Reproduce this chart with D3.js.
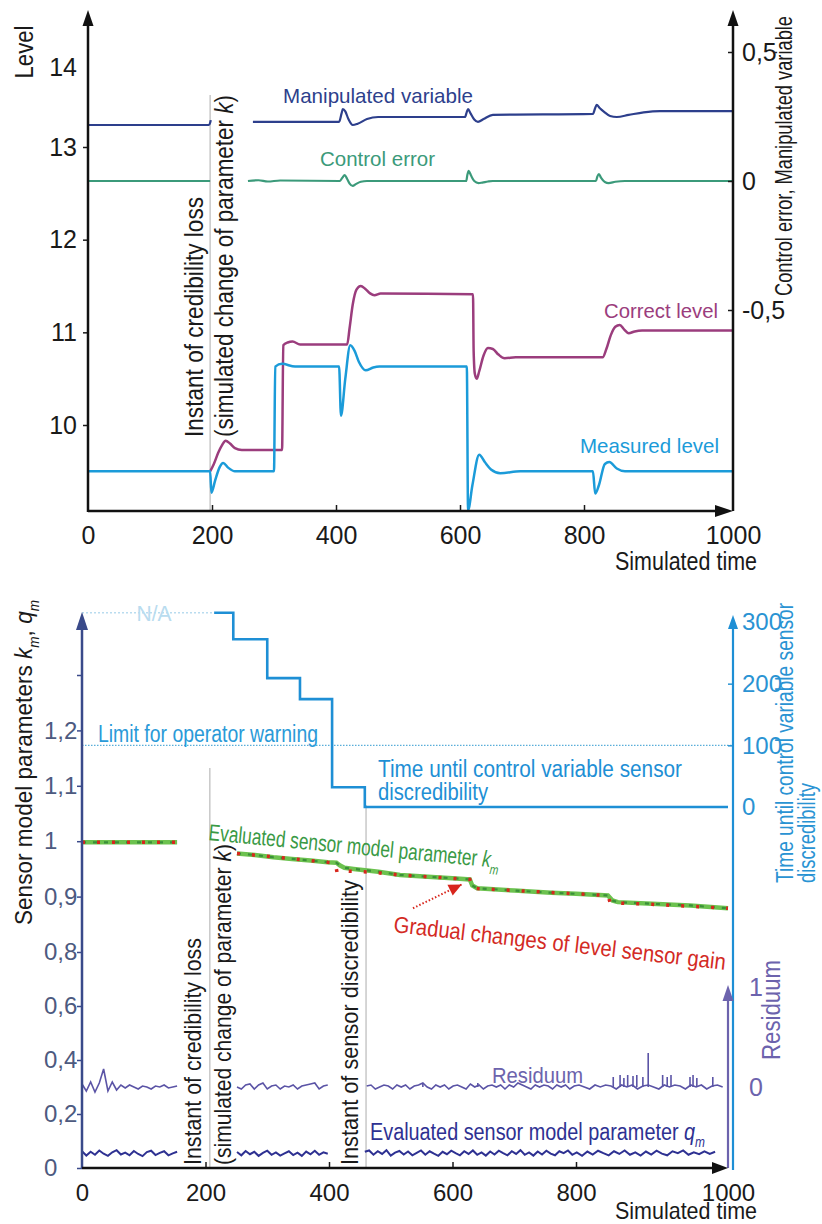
<!DOCTYPE html>
<html>
<head>
<meta charset="utf-8">
<script src="https://cdn.jsdelivr.net/npm/d3@7"></script>
<style>
body { margin: 0; background: #fff; }
svg text { font-family: "Liberation Sans Narrow", "Arial Narrow", "Liberation Sans", Arial, sans-serif; }
</style>
</head>
<body>
<svg id="chart" width="822" height="1224"></svg>
<script>
// ---------------- top chart data: [simulated time, value] ----------------
var measuredLevel = [[0,9.50],[197,9.50],[199,9.27],[205,9.40],[212,9.54],[218,9.59],[226,9.54],[237,9.50],
  [300,9.50],[302,10.63],[313,10.66],[334,10.63],[405,10.63],[408,10.10],[415,10.50],[423,10.86],[430,10.80],
  [437,10.68],[448,10.59],[460,10.62],[470,10.63],[611,10.63],[613,9.08],[620,9.35],[631,9.68],[640,9.60],
  [650,9.52],[665,9.48],[697,9.50],[812,9.50],[815,9.26],[820,9.35],[828,9.58],[834,9.60],[844,9.53],
  [855,9.50],[1000,9.50]];
var correctLevel = [[197,9.50],[203,9.58],[210,9.70],[216,9.78],[222,9.83],[229,9.80],[237,9.75],[248,9.73],
  [313,9.73],[315,10.86],[322,10.89],[330,10.90],[342,10.87],[418,10.87],[422,11.05],[427,11.30],[433,11.46],
  [440,11.50],[447,11.47],[455,11.42],[462,11.40],[472,11.42],[621,11.41],[622,10.80],[624,10.55],[627,10.50],
  [631,10.58],[638,10.75],[645,10.83],[653,10.82],[662,10.76],[672,10.72],[690,10.73],[825,10.73],[830,10.82],
  [836,10.97],[842,11.06],[848,11.08],[854,11.03],[860,10.99],[868,11.01],[878,11.02],[1000,11.02]];
var manipulatedA = [[0,0.217],[195,0.217],[197,0.226],[198,0.236]];
var manipulatedB = [[266,0.229],[405,0.229],[409,0.262],[411,0.279],[415,0.270],[420,0.240],[427,0.217],
  [435,0.222],[450,0.240],[468,0.248],[608,0.248],[611,0.268],[613,0.279],[617,0.262],[623,0.238],[629,0.229],
  [638,0.240],[653,0.256],[812,0.260],[815,0.283],[817,0.295],[821,0.283],[827,0.268],[835,0.252],[844,0.248],
  [860,0.256],[880,0.266],[902,0.271],[1000,0.271]];
var controlErrorA = [[0,0],[197,0]];
var controlErrorB = [[258,0],[275,0.003],[290,-0.002],[310,0.002],[406,0],[410,0.012],[414,0.023],[418,0.008],
  [422,-0.010],[427,-0.019],[432,-0.012],[440,-0.003],[450,0],[610,0],[612,0.025],[614,0.039],[618,0.020],
  [623,0],[630,-0.008],[636,-0.006],[645,-0.002],[653,0],[816,0],[818,0.018],[820,0.027],[823,0.012],
  [828,-0.004],[833,-0.008],[842,-0.003],[855,0],[1000,0]];
var levelTicks = [10, 11, 12, 13, 14];
var ctrlTicks = [-0.5, 0, 0.5];
var timeTicks = [0, 200, 400, 600, 800, 1000];
var credibilityLossTop = 197;

// ---------------- bottom chart data ----------------
var kmEvalA = [[0,0.998],[154,0.998]];
var kmEvalB = [[251,0.978],[280,0.975],[310,0.971],[340,0.968],[370,0.965],[398,0.962],[412,0.961],[418,0.956],
  [425,0.952],[440,0.950],[480,0.945],[515,0.939],[560,0.936],[600,0.933],[628,0.931],[632,0.920],[640,0.915],
  [700,0.911],[760,0.907],[800,0.905],[842,0.902],[848,0.893],[855,0.890],[900,0.887],[950,0.884],[1000,0.879]];
var kTrueA = [[0,0.998],[154,0.998]];
var kTrueB = [[251,0.978],[398,0.962],[410,0.961],[413,0.944],[430,0.946],[470,0.944],[515,0.939],[600,0.933],
  [628,0.931],[632,0.915],[700,0.911],[800,0.905],[842,0.902],[845,0.889],[900,0.886],[1000,0.879]];
var gainArrow = [[536,0.879],[615,0.922]];
var timeUntil = [[214,315],[245,272],[300,209],[353,175],[405,32],[458,0],[1000,0]];
var notAvailable = [[0,315],[214,315]];
var warningLimit = 100;
var credibilityLossBottom = 207;
var sensorDiscredibility = 460;

// residuum and q_m: samples every 7 time units from the given start
var sampleStep = 7;
var residuumA = [0.03,-0.04,0.05,-0.05,0.04,0.18,-0.04,0.05,-0.03,0.02,-0.01,0.02,0.00,-0.02,0.01,0.00,-0.02,0.01,0.00,0.02,-0.01,0.00,0.01];
var residuumB = [0.00,-0.02,0.02,0.03,-0.02,0.02,0.04,-0.02,0.01,0.02,-0.02,0.01,0.00,0.02,-0.02,0.01,0.02,0.03,0.04,-0.02,0.01,0.02];
var residuumC = [0.01,0.02,-0.02,0.00,0.02,0.01,-0.02,0.02,0.00,0.02,
  -0.02,0.01,0.02,0.04,0.00,-0.02,0.02,0.00,0.02,-0.02,
  0.01,0.02,0.00,-0.02,0.03,0.00,0.02,-0.02,0.01,0.02,
  0.00,0.02,-0.02,0.02,0.00,0.04,0.02,0.00,-0.02,0.02,
  0.00,0.02,0.01,-0.02,0.02,0.00,0.02,-0.02,0.01,0.02,
  0.00,-0.02,0.02,0.00,0.02,0.01,-0.02,0.02,0.00,0.02,
  -0.02,0.01,0.02,0.00,-0.02,0.02,0.00,0.02,0.01,-0.02,
  0.02,0.00,0.02,-0.02,0.01,0.02,0.00];
var residuumStarts = [0, 251, 461];
var residuumSpikes = [[552,0.04],[641,0.04],[849,0.10],[858,0.12],[863,0.09],[868,0.12],[875,0.11],[880,0.12],
  [888,0.10],[895,0.34],[914,0.12],[920,0.10],[925,0.12],[950,0.10],[954,0.12],[959,0.09],[980,0.10]];
var qmA = [0.062,0.046,0.060,0.049,0.065,0.053,0.045,0.058,0.066,0.050,0.057,0.047,0.063,0.052,0.044,0.059,0.064,0.048,0.056,0.062,0.047,0.054,0.060];
var qmB = [0.059,0.047,0.063,0.051,0.060,0.045,0.056,0.064,0.049,0.058,0.046,0.054,0.062,0.048,0.057,0.045,0.061,0.051,0.064,0.049,0.058,0.053];
var qmC = [0.060,0.065,0.049,0.062,0.052,0.066,0.046,0.057,0.063,0.050,
  0.061,0.047,0.056,0.065,0.049,0.062,0.053,0.045,0.060,0.051,
  0.064,0.055,0.047,0.062,0.052,0.065,0.049,0.058,0.046,0.061,
  0.050,0.064,0.055,0.047,0.062,0.052,0.066,0.049,0.058,0.046,
  0.061,0.050,0.064,0.053,0.047,0.062,0.055,0.065,0.049,0.058,
  0.045,0.061,0.050,0.064,0.055,0.047,0.062,0.052,0.065,0.049,
  0.058,0.046,0.061,0.050,0.064,0.053,0.047,0.062,0.055,0.065,
  0.049,0.058,0.051,0.062,0.052,0.060];
var qmStarts = [0, 251, 458];
var paramTicks = [0, 0.2, 0.4, 0.6, 0.8, 0.9, 1, 1.1, 1.2, 1.3];
var timeUntilTicks = [0, 100, 200, 300];
var residuumTicks = [0, 1];

var svg = d3.select("#chart");

// does a narrow face exist? if not, squeeze the plain texts a little
var probe = svg.append("text").style("font-size", "20px").style("font-family", "'Liberation Sans Narrow'").text("Manipulated variable");
var wNarrow = probe.node().getComputedTextLength();
probe.style("font-family", "'Liberation Sans'");
var hasNarrow = wNarrow < probe.node().getComputedTextLength() * 0.95;
probe.remove();

function squeeze(sel) {
  if (hasNarrow) return;
  sel.each(function() {
    var w = this.getComputedTextLength();
    if (w > 0) d3.select(this).attr("textLength", w * 0.82).attr("lengthAdjust", "spacingAndGlyphs");
  });
}

// text helper: parts = [[text, flags]] flags: i = italic, s = subscript
function label(parts, o) {
  var t = svg.append("text")
    .attr("transform", "translate(" + o.x + "," + o.y + ")" + (o.rot ? " rotate(" + o.rot + ")" : ""))
    .attr("text-anchor", o.anchor || "start")
    .style("font-size", o.size + "px")
    .attr("fill", o.color || "#1a1a1a");
  if (typeof parts === "string") parts = [[parts]];
  var shifted = 0;
  parts.forEach(function(p) {
    var f = p[1] || "";
    var s = t.append("tspan").text(p[0]);
    if (f.indexOf("i") >= 0) s.style("font-style", "italic");
    if (f.indexOf("s") >= 0) {
      var d = o.size * 0.3;
      s.style("font-size", (o.size * 0.6) + "px").attr("dy", d - shifted);
      shifted = d;
    } else if (shifted) {
      s.attr("dy", -shifted);
      shifted = 0;
    }
  });
  if (o.len) t.attr("textLength", o.len).attr("lengthAdjust", "spacingAndGlyphs");
  else squeeze(t);
  return t;
}

function arrowHead(x, y, dir, color, len, half) {
  var p;
  if (dir === "up") p = [[x, y], [x - half, y + len], [x + half, y + len]];
  else p = [[x, y], [x - len, y - half], [x - len, y + half]];
  svg.append("path").attr("d", "M" + p.join("L") + "Z").attr("fill", color);
}

function styleAxis(g, size, color) {
  g.attr("font-family", null).attr("font-size", null);
  g.selectAll("text").style("font-size", size + "px").attr("fill", color);
  g.selectAll("line").attr("stroke", color).attr("stroke-width", 1.5);
  g.select(".domain").remove();
  squeeze(g.selectAll("text"));
}

function seq(t0, vals) {
  return vals.map(function(v, i) { return [t0 + i * sampleStep, v]; });
}

var comma = function(d) { return String(d).replace(".", ","); };

// ================= TOP CHART =================
var frameA = {left: 88, right: 733, top: 10, bottom: 511};
var x1 = d3.scaleLinear().domain([0, 800, 1000]).range([88, 584, 733]);
var yLevel = d3.scaleLinear().domain([10, 13, 14]).range([425, 147, 67]);
var yCtrl = d3.scaleLinear().domain([0, 0.5]).range([181, 52]);

var lineLevel = d3.line().x(function(d) { return x1(d[0]); }).y(function(d) { return yLevel(d[1]); }).curve(d3.curveMonotoneX);
var lineCtrl = d3.line().x(function(d) { return x1(d[0]); }).y(function(d) { return yCtrl(d[1]); }).curve(d3.curveMonotoneX);

// instant of credibility loss
svg.append("line")
  .attr("x1", x1(credibilityLossTop)).attr("x2", x1(credibilityLossTop))
  .attr("y1", 95).attr("y2", frameA.bottom)
  .attr("stroke", "#c8c8c8").attr("stroke-width", 1.5);

svg.append("path").datum(correctLevel).attr("d", lineLevel)
  .attr("fill", "none").attr("stroke", "#9b3d7d").attr("stroke-width", 2.5);
svg.append("path").datum(measuredLevel).attr("d", lineLevel)
  .attr("fill", "none").attr("stroke", "#1b9bd9").attr("stroke-width", 2.5);
[manipulatedA, manipulatedB].forEach(function(s) {
  svg.append("path").datum(s).attr("d", lineCtrl)
    .attr("fill", "none").attr("stroke", "#2d3f8c").attr("stroke-width", 2.2);
});
[controlErrorA, controlErrorB].forEach(function(s) {
  svg.append("path").datum(s).attr("d", lineCtrl)
    .attr("fill", "none").attr("stroke", "#3b9a7a").attr("stroke-width", 2.2);
});

// axes
var gL1 = svg.append("g").attr("transform", "translate(" + frameA.left + ",0)")
  .call(d3.axisLeft(yLevel).tickValues(levelTicks).tickSize(5).tickPadding(6).tickFormat(d3.format("d")));
styleAxis(gL1, 25, "#1a1a1a");
gL1.selectAll(".tick").filter(function(d) { return d === 14; }).select("line").remove();

var gB1 = svg.append("g").attr("transform", "translate(0," + frameA.bottom + ")")
  .call(d3.axisBottom(x1).tickValues(timeTicks).tickSize(-6).tickPadding(15).tickFormat(d3.format("d")));
styleAxis(gB1, 25, "#1a1a1a");
gB1.selectAll(".tick").filter(function(d) { return d === 0 || d === 1000; }).select("line").remove();

var gR1 = svg.append("g").attr("transform", "translate(" + frameA.right + ",0)")
  .call(d3.axisRight(yCtrl).tickValues(ctrlTicks).tickSize(-5).tickPadding(9).tickFormat(comma));
styleAxis(gR1, 25, "#1a1a1a");

svg.append("line").attr("x1", frameA.left).attr("x2", frameA.left).attr("y1", frameA.bottom + 1).attr("y2", frameA.top + 10)
  .attr("stroke", "#111").attr("stroke-width", 2.5);
svg.append("line").attr("x1", frameA.right).attr("x2", frameA.right).attr("y1", frameA.bottom).attr("y2", frameA.top + 10)
  .attr("stroke", "#111").attr("stroke-width", 2.5);
svg.append("line").attr("x1", frameA.left).attr("x2", frameA.right - 10).attr("y1", frameA.bottom).attr("y2", frameA.bottom)
  .attr("stroke", "#111").attr("stroke-width", 2.5);
arrowHead(frameA.left, frameA.top, "up", "#111", 16, 5.5);
arrowHead(frameA.right, frameA.top, "up", "#111", 16, 5.5);
arrowHead(frameA.right, frameA.bottom, "right", "#111", 18, 6);

label("Level", {x: 33, y: 52, rot: -90, anchor: "middle", size: 25, len: 53});
label("Control error, Manipulated variable", {x: 792, y: 156, rot: -90, anchor: "middle", size: 24, len: 280});
label("Simulated time", {x: 757, y: 570, anchor: "end", size: 25, len: 142});
label("Instant of credibility loss", {x: 203, y: 437, rot: -90, size: 25, len: 240});
label([["(simulated change of parameter "], ["k", "i"], [")"]], {x: 233, y: 437, rot: -90, size: 25, len: 342});
label("Manipulated variable", {x: 283, y: 103, size: 21, len: 190, color: "#2d3f8c"});
label("Control error", {x: 320, y: 166, size: 21, len: 115, color: "#3b9a7a"});
label("Correct level", {x: 604, y: 318, size: 21, len: 114, color: "#9b3d7d"});
label("Measured level", {x: 580, y: 453, size: 21, len: 139, color: "#1b9bd9"});

// ================= BOTTOM CHART =================
var frameB = {left: 82, right: 733, top: 612, bottom: 1168, resAxis: 728};
var x2 = d3.scaleLinear().domain([0, 800, 1000]).range([82, 576, 728]);
var yParam = d3.scaleLinear().domain([0, 0.8, 1.3]).range([1168, 952, 675]);
var yTime = d3.scaleLinear().domain([0, 300]).range([807, 622]);
var yRes = d3.scaleLinear().domain([0, 1]).range([1087, 987]);

var lineParam = d3.line().x(function(d) { return x2(d[0]); }).y(function(d) { return yParam(d[1]); });
var lineTime = d3.line().x(function(d) { return x2(d[0]); }).y(function(d) { return yTime(d[1]); }).curve(d3.curveStepAfter);
var lineRes = d3.line().x(function(d) { return x2(d[0]); }).y(function(d) { return yRes(d[1]); });

// vertical event lines
svg.append("line").attr("x1", x2(credibilityLossBottom)).attr("x2", x2(credibilityLossBottom))
  .attr("y1", 768).attr("y2", frameB.bottom).attr("stroke", "#c8c8c8").attr("stroke-width", 1.5);
svg.append("line").attr("x1", x2(sensorDiscredibility)).attr("x2", x2(sensorDiscredibility))
  .attr("y1", 805).attr("y2", frameB.bottom).attr("stroke", "#c8c8c8").attr("stroke-width", 1.5);

// warning limit and N/A level
svg.append("line").attr("x1", frameB.left).attr("x2", frameB.right)
  .attr("y1", yTime(warningLimit)).attr("y2", yTime(warningLimit))
  .attr("stroke", "#5aaed9").attr("stroke-width", 1.2).attr("stroke-dasharray", "1.5,1.5");
svg.append("path").datum(notAvailable).attr("d", lineTime).attr("fill", "none")
  .attr("stroke", "#b9dcef").attr("stroke-width", 1.5).attr("stroke-dasharray", "2,2");

// time until discredibility
svg.append("path").datum(timeUntil).attr("d", lineTime).attr("fill", "none")
  .attr("stroke", "#1e8fd5").attr("stroke-width", 2.6);

// k_m evaluated and true gain
[kmEvalA, kmEvalB].forEach(function(s) {
  svg.append("path").datum(s).attr("d", lineParam).attr("fill", "none")
    .attr("stroke", "#6cc24f").attr("stroke-width", 4.5);
  svg.append("path").datum(s).attr("d", lineParam).attr("fill", "none")
    .attr("stroke", "#3a8f3a").attr("stroke-width", 2.2).attr("stroke-dasharray", "4,7");
});
[kTrueA, kTrueB].forEach(function(s) {
  svg.append("path").datum(s).attr("d", lineParam).attr("fill", "none")
    .attr("stroke", "#d8261d").attr("stroke-width", 3.5).attr("stroke-dasharray", "3,12");
});

// arrow pointing to the gain change
svg.append("path").datum(gainArrow).attr("d", lineParam).attr("fill", "none")
  .attr("stroke", "#d8261d").attr("stroke-width", 2).attr("stroke-dasharray", "1.5,2");
(function() {
  var a = gainArrow[0], b = gainArrow[1];
  var ax = x2(a[0]), ay = yParam(a[1]), bx = x2(b[0]), by = yParam(b[1]);
  var ang = Math.atan2(by - ay, bx - ax) * 180 / Math.PI;
  svg.append("path").attr("d", "M0,0L-13,-6L-13,6Z").attr("fill", "#d8261d")
    .attr("transform", "translate(" + bx + "," + by + ") rotate(" + ang + ")");
})();

// residuum and q_m
[residuumA, residuumB, residuumC].forEach(function(s, i) {
  svg.append("path").datum(seq(residuumStarts[i], s)).attr("d", lineRes).attr("fill", "none")
    .attr("stroke", "#5b54a6").attr("stroke-width", 1.6);
});
svg.selectAll(".spike").data(residuumSpikes).enter().append("line").attr("class", "spike")
  .attr("x1", function(d) { return x2(d[0]); }).attr("x2", function(d) { return x2(d[0]); })
  .attr("y1", yRes(0)).attr("y2", function(d) { return yRes(d[1]); })
  .attr("stroke", "#5b54a6").attr("stroke-width", 1.6);
[qmA, qmB, qmC].forEach(function(s, i) {
  svg.append("path").datum(seq(qmStarts[i], s)).attr("d", lineParam).attr("fill", "none")
    .attr("stroke", "#2e3192").attr("stroke-width", 2);
});

// axes
var gL2 = svg.append("g").attr("transform", "translate(" + frameB.left + ",0)")
  .call(d3.axisLeft(yParam).tickValues(paramTicks).tickSize(5).tickPadding(6)
    .tickFormat(function(d) { return d === 1.3 ? "" : comma(d); }));
styleAxis(gL2, 24, "#4d5a80");
gL2.selectAll("line").attr("stroke", "#3a4a8a");
gL2.selectAll("text").attr("text-anchor", "start").attr("x", 44 - frameB.left);

var gB2 = svg.append("g").attr("transform", "translate(0," + frameB.bottom + ")")
  .call(d3.axisBottom(x2).tickValues(timeTicks).tickSize(-6).tickPadding(16).tickFormat(d3.format("d")));
styleAxis(gB2, 24, "#1a1a1a");
gB2.selectAll(".tick").filter(function(d) { return d === 0 || d === 1000; }).select("line").remove();

var gT2 = svg.append("g").attr("transform", "translate(" + frameB.right + ",0)")
  .call(d3.axisRight(yTime).tickValues(timeUntilTicks).tickSize(-5).tickPadding(9).tickFormat(d3.format("d")));
styleAxis(gT2, 24, "#2a93d3");
gT2.selectAll(".tick").filter(function(d) { return d === 300 || d === 0; }).select("line").remove();

var gR2 = svg.append("g").attr("transform", "translate(" + frameB.resAxis + ",0)")
  .call(d3.axisRight(yRes).tickValues(residuumTicks).tickSize(0).tickPadding(21).tickFormat(d3.format("d")));
styleAxis(gR2, 25, "#6c63ad");

svg.append("line").attr("x1", frameB.left).attr("x2", frameB.left).attr("y1", frameB.bottom + 1).attr("y2", frameB.top + 12)
  .attr("stroke", "#3a4a8a").attr("stroke-width", 2.5);
svg.append("line").attr("x1", frameB.right).attr("x2", frameB.right).attr("y1", frameB.bottom + 2).attr("y2", frameB.top + 14)
  .attr("stroke", "#1e8fd5").attr("stroke-width", 2.2);
svg.append("line").attr("x1", frameB.resAxis).attr("x2", frameB.resAxis).attr("y1", frameB.bottom).attr("y2", yRes(1) + 12)
  .attr("stroke", "#6c63ad").attr("stroke-width", 2.2);
svg.append("line").attr("x1", frameB.left).attr("x2", frameB.resAxis - 10).attr("y1", frameB.bottom).attr("y2", frameB.bottom)
  .attr("stroke", "#111").attr("stroke-width", 2.5);
arrowHead(frameB.left, frameB.top, "up", "#3a4a8a", 18, 6);
arrowHead(frameB.right, frameB.top + 3, "up", "#1e8fd5", 14, 5);
arrowHead(frameB.resAxis, yRes(1) - 2, "up", "#6c63ad", 16, 5.5);
arrowHead(frameB.resAxis, frameB.bottom, "right", "#111", 16, 6);

// texts
label([["Sensor model parameters  "], ["k", "i"], ["m", "is"], [", "], ["q", "i"], ["m", "is"]],
  {x: 32, y: 925, rot: -90, size: 24, len: 325});
label([["Time until control variable sensor"]], {x: 793, y: 883, rot: -90, size: 23, len: 280, color: "#2a93d3"});
label("discredibility", {x: 815, y: 883, rot: -90, size: 23, len: 100, color: "#2a93d3"});
label("Residuum", {x: 780, y: 1010, rot: -90, anchor: "middle", size: 25, len: 100, color: "#6c63ad"});
label("N/A", {x: 154, y: 621, anchor: "middle", size: 22, len: 35, color: "#b9dcef"});
label("Limit for operator warning", {x: 98, y: 742, size: 23, len: 220, color: "#2a9ad8"});
label("Time until control variable sensor", {x: 378, y: 777, size: 23, len: 304, color: "#1e8fd5"});
label("discredibility", {x: 378, y: 800, size: 23, len: 110, color: "#1e8fd5"});
label([["Evaluated sensor model parameter "], ["k", "i"], ["m", "is"]],
  {x: 208, y: 840, rot: 5.5, size: 23, len: 292, color: "#3a9a45"});
label("Gradual changes of level sensor gain", {x: 393, y: 932, rot: 6.5, size: 23, len: 334, color: "#d32a24"});
label("Instant of credibility loss", {x: 201, y: 1165, rot: -90, size: 24, len: 227});
label([["(simulated change of parameter "], ["k", "i"], [")"]], {x: 231, y: 1165, rot: -90, size: 24, len: 321});
label("Instant of sensor discredibility", {x: 358, y: 1165, rot: -90, size: 24, len: 285});
label("Residuum", {x: 492, y: 1083, size: 22, len: 91, color: "#6c63ad"});
label([["Evaluated sensor model parameter "], ["q", "i"], ["m", "is"]], {x: 370, y: 1140, size: 23, len: 335, color: "#2e3192"});
label("Simulated time", {x: 757, y: 1219, anchor: "end", size: 24, len: 142});
</script>
</body>
</html>
